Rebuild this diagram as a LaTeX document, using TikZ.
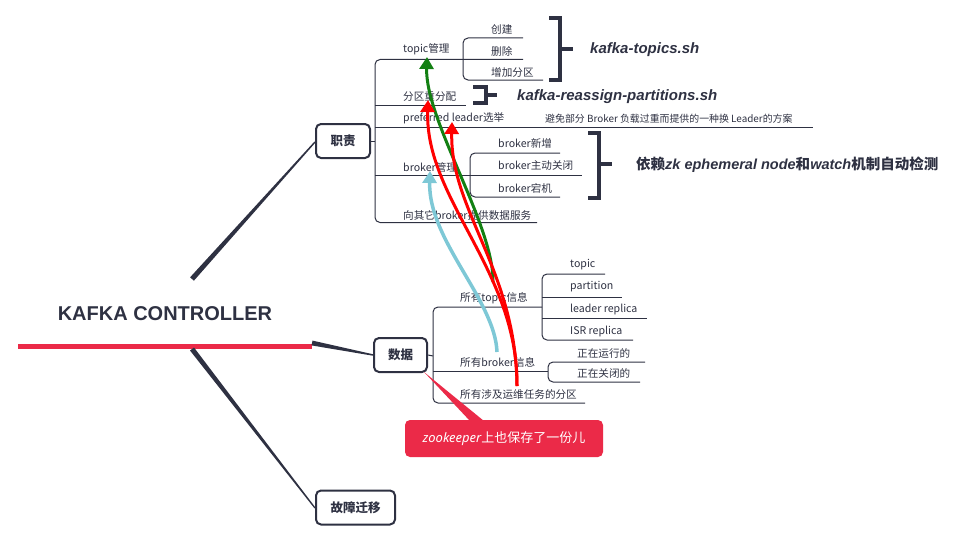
\documentclass[tikz,border=0pt]{standalone}
\usepackage{fontspec}
\setmainfont{Noto Sans CJK SC}
\newfontfamily\lat{Noto Sans}
\newfontfamily\latb{Liberation Sans}
\usetikzlibrary{arrows.meta}
\definecolor{kdark}{HTML}{2E3142}
\definecolor{kred}{HTML}{EB2A48}
\definecolor{kblue}{HTML}{7EC8D6}
\definecolor{kgreen}{HTML}{138013}
\definecolor{karrow}{HTML}{FF0000}
\tikzset{
  tree/.style={draw=kdark,line width=1pt,rounded corners=5pt},
  brk/.style={draw=kdark,line width=4pt,line join=miter},
  lbl/.style={anchor=west,inner sep=0pt,text=kdark,font=\fontsize{10.6}{12}\selectfont},
  note/.style={anchor=west,inner sep=0pt,text=kdark,font=\fontsize{9.9}{11}\selectfont},
  big/.style={anchor=west,inner sep=0pt,text=kdark,font=\fontsize{15}{17}\selectfont\bfseries},
  box/.style={draw=kdark,line width=2pt,rounded corners=5pt,text=kdark,font=\fontsize{12.5}{14}\selectfont\bfseries,minimum height=34pt,inner sep=0pt},
  arr/.style={line width=3pt,-{Triangle[length=12pt,width=14pt]}},
}
\begin{document}
\begin{tikzpicture}[x=1pt,y=-1pt]
\useasboundingbox (0,0) rectangle (977,543);

% root
\node[text=kdark,font=\fontsize{20}{22}\selectfont,inner sep=0pt] (root) at (165,314) {\latb\bfseries KAFKA CONTROLLER};
\fill[kred] (18,344) rectangle (312,349);

% tapered branches
\fill[kdark] (193.9,280.7) -- (190.1,277.3) -- (314.5,141.5) -- (315.5,142.5) -- cycle;
\fill[kdark] (311.5,345.4) -- (312.5,340.6) -- (373.2,354.3) -- (372.8,355.7) -- cycle;
\fill[kdark] (194.0,347.5) -- (190.0,350.5) -- (314.5,508.4) -- (315.5,507.6) -- cycle;

% main boxes
\node[box,minimum width=54pt] (zz) at (343,141) {职责};
\node[box,minimum width=53pt] (sj) at (400.5,355) {数据};
\node[box,minimum width=79pt] (gz) at (355.5,507.5) {故障迁移};

% ---- 职责 subtree
\draw[tree] (zz.east) -- (375,141);
\draw[tree] (523,59.5) -- (375,59.5) -- (375,222.5) -- (537,222.5);
\draw[tree] (523,38) -- (463,38) -- (463,80) -- (543,80);
\draw[tree] (375,105) -- (466,105);
\draw[tree] (375,127) -- (813,127);
\draw[tree] (375,175) -- (582,175);
\draw[tree] (560,153) -- (470,153) -- (470,197) -- (560,197);

\node[lbl] (t1) at (403,49) {topic管理};
\node[lbl] (t1a) at (491,29) {创建};
\node[lbl] (t1b) at (491,51) {删除};
\node[lbl] (t1c) at (491,72) {增加分区};
\node[lbl] (t2) at (403,97) {分区重分配};
\node[lbl] (t3) at (403,118) {preferred leader选举};
\node[note] (t3n) at (545,119) {避免部分 Broker 负载过重而提供的一种换 Leader的方案};
\node[lbl] (t4) at (403,167) {broker管理};
\node[lbl] (t4a) at (498,143) {broker新增};
\node[lbl] (t4b) at (498,165) {broker主动关闭};
\node[lbl] (t4c) at (498,188) {broker宕机};
\node[lbl] (t5) at (403,215) {向其它broker提供数据服务};

% brackets
\draw[brk] (549,18) -- (560,18) -- (560,80) -- (549,80);
\draw[brk] (560,49) -- (573,49);
\node[big] (k1) at (590,50) {\latb\bfseries\itshape kafka-topics.sh};
\draw[brk] (473,87) -- (486,87) -- (486,103) -- (473,103);
\draw[brk] (486,95) -- (497,95);
\node[big] (k2) at (517,97) {\latb\bfseries\itshape kafka-reassign-partitions.sh};
\draw[brk] (588,133) -- (599,133) -- (599,198) -- (588,198);
\draw[brk] (599,164) -- (612,164);
\node[big,font=\fontsize{14.5}{16}\selectfont\bfseries] (k3) at (636,165) {依赖{\latb\bfseries\itshape zk ephemeral node}和{\latb\bfseries\itshape watch}机制自动检测};

% ---- 数据 subtree
\draw[tree] (sj.east) -- (433,356);
\draw[tree] (542,307) -- (433,307) -- (433,403) -- (585,403);
\draw[tree] (605,274) -- (542,274) -- (542,340) -- (633,340);
\draw[tree] (542,297) -- (622,297);
\draw[tree] (542,318) -- (647,318);
\draw[tree] (433,371) -- (548,371);
\draw[tree] (645,362) -- (548,362) -- (548,382) -- (640,382);

\node[lbl] (d1) at (460,298) {所有topic信息};
\node[lbl] (d1a) at (570,265) {topic};
\node[lbl] (d1b) at (570,287) {partition};
\node[lbl] (d1c) at (570,309) {leader replica};
\node[lbl] (d1d) at (570,331) {ISR replica};
\node[lbl] (d2) at (460,362) {所有broker信息};
\node[lbl] (d2a) at (577,353) {正在运行的};
\node[lbl] (d2b) at (577,373) {正在关闭的};
\node[lbl] (d3) at (460,394) {所有涉及运维任务的分区};

% callout
\fill[kred] (424,372) -- (470,421) -- (484,421) -- cycle;
\node[fill=kred,rounded corners=5pt,minimum width=198pt,minimum height=37pt,inner sep=0pt,text=white,font=\fontsize{13}{15}\selectfont] (co) at (504,438.5) {{\lat\itshape zookeeper}上也保存了一份儿};

% annotation arrows
\coordinate (gs) at (493,282);
\coordinate (rs) at (517,386);
\coordinate (bs) at (497,352);
\coordinate (gt) at (427,57);
\coordinate (rt1) at (428,100);
\coordinate (rt2) at (452,122);
\coordinate (bt) at (430,171);
\draw[arr,kblue,line width=3.5pt] (bs) .. controls (495,300) and (428,240) .. (bt);
\draw[arr,kgreen] (gs) .. controls (494,225) and (425,120) .. (gt);
\draw[arr,karrow] (rs) .. controls (518,270) and (425,200) .. (rt1);
\draw[arr,karrow] (rs) .. controls (516,270) and (450,210) .. (rt2);
\end{tikzpicture}
\end{document}
